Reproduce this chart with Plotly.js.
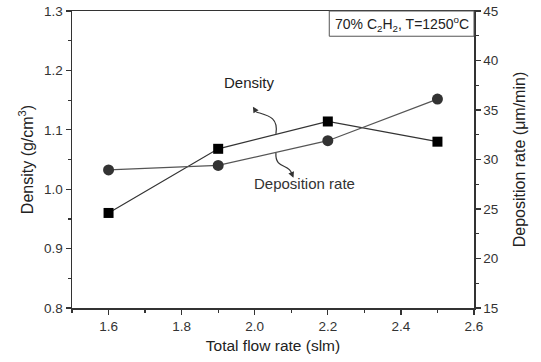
<!DOCTYPE html>
<html>
<head>
<meta charset="utf-8">
<script src="https://cdn.plot.ly/plotly-3.0.1.min.js"></script>
<style>html,body{margin:0;padding:0;background:#fff;}#chart{width:541px;height:362px;}</style>
</head>
<body>
<div id="chart"></div>
<script>
const flowRate = [1.6, 1.9, 2.2, 2.5];
const density = [0.960, 1.068, 1.114, 1.080];
const depositionRate = [28.95, 29.4, 31.9, 36.1];
const densityName = "Density";
const depositionName = "Deposition rate";
const boxLabel = "70% C<sub>2</sub>H<sub>2</sub>, T=1250<sup>o</sup>C";

const font = "Liberation Sans, Arial, sans-serif";
const traces = [
  {x: flowRate, y: density, name: densityName, type: "scatter", mode: "lines+markers",
   line: {color: "#333", width: 1.2}, marker: {symbol: "square", size: 10, color: "#000"}, yaxis: "y"},
  {x: flowRate, y: depositionRate, name: depositionName, type: "scatter", mode: "lines+markers",
   line: {color: "#555", width: 1.2}, marker: {symbol: "circle", size: 11, color: "#333"}, yaxis: "y2"}
];

const axisCommon = {
  showgrid: false, zeroline: false, showline: true, linecolor: "#333", linewidth: 1.5,
  ticks: "outside", ticklen: 5, tickwidth: 1.2, tickcolor: "#333",
  tickfont: {family: font, size: 13.5, color: "#333"}
};

const layout = {
  width: 541, height: 362,
  margin: {l: 72, r: 67, t: 11, b: 54},
  paper_bgcolor: "#fff", plot_bgcolor: "#fff",
  showlegend: false,
  font: {family: font, color: "#222"},
  xaxis: Object.assign({}, axisCommon, {
    range: [1.5, 2.6], tick0: 1.6, dtick: 0.2, tickformat: ".1f", mirror: true,
    minor: {dtick: 0.1, tick0: 1.5, ticks: "outside", ticklen: 3, tickcolor: "#333"},
    title: {text: "Total flow rate (slm)", font: {family: font, size: 15.5, color: "#222"}, standoff: 7}
  }),
  yaxis: Object.assign({}, axisCommon, {
    range: [0.8, 1.3], dtick: 0.1, tickformat: ".1f",
    minor: {dtick: 0.05, ticks: "outside", ticklen: 3, tickcolor: "#333"},
    title: {text: "Density (g/cm<sup>3</sup>)", font: {family: font, size: 16, color: "#222"}, standoff: 6}
  }),
  yaxis2: Object.assign({}, axisCommon, {
    overlaying: "y", side: "right", range: [15, 45], dtick: 5,
    minor: {dtick: 2.5, ticks: "outside", ticklen: 3, tickcolor: "#333"},
    title: {text: "Deposition rate (\u03bcm/min)", font: {family: font, size: 16, color: "#222"}, standoff: 16}
  }),
  shapes: [
    {type: "rect", xref: "paper", yref: "paper", x0: 0.64, x1: 1.0, y0: 0.915, y1: 1.0,
     line: {color: "#555", width: 1}, fillcolor: "#fff"},
    {type: "path", xref: "x", yref: "y",
     path: "M 2.058 1.093 C 2.066 1.122, 2.035 1.124, 2.004 1.130",
     line: {color: "#333", width: 1.2}},
    {type: "path", xref: "x", yref: "y2",
     path: "M 2.058 30.66 C 2.055 29.0, 2.095 29.6, 2.101 28.6",
     line: {color: "#333", width: 1.2}}
  ],
  annotations: [
    {xref: "paper", yref: "paper", x: 0.822, y: 0.957, text: boxLabel, showarrow: false,
     font: {family: font, size: 14, color: "#222"}, xanchor: "center", yanchor: "middle"},
    {xref: "x", yref: "y", x: 1.987, y: 1.179, text: densityName, showarrow: false,
     font: {family: font, size: 15, color: "#222"}},
    {xref: "x", yref: "y2", x: 2.137, y: 27.6, text: depositionName, showarrow: false,
     font: {family: font, size: 15, color: "#333"}},
    {xref: "x", yref: "y", x: 1.995, y: 1.139, ax: 2.004, ay: 1.130, axref: "x", ayref: "y",
     text: "", showarrow: true, arrowhead: 2, arrowsize: 1, arrowwidth: 1.2, arrowcolor: "#333"},
    {xref: "x", yref: "y2", x: 2.106, y: 28.15, ax: 2.101, ay: 28.6, axref: "x", ayref: "y2",
     text: "", showarrow: true, arrowhead: 2, arrowsize: 1, arrowwidth: 1.2, arrowcolor: "#333"}
  ]
};

Plotly.newPlot("chart", traces, layout, {staticPlot: true, displayModeBar: false});
</script>
</body>
</html>
